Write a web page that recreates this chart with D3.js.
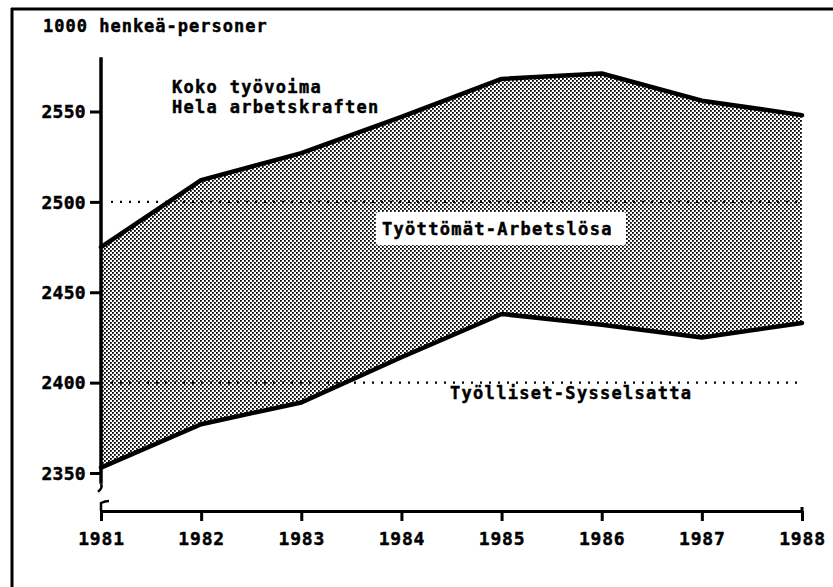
<!DOCTYPE html>
<html><head><meta charset="utf-8">
<script src="https://cdn.jsdelivr.net/npm/d3@7"></script>
<style>
html,body{margin:0;padding:0;background:#fff;}
svg{display:block;}
text{font-family:"DejaVu Sans Mono",monospace;font-weight:bold;fill:#000;stroke:#000;stroke-width:0.45px;}
</style></head>
<body>
<script>
const years = [1981,1982,1983,1984,1985,1986,1987,1988];
const labourForce = [2475,2512,2527,2547,2568,2571,2556,2548];
const employed = [2353,2377,2389,2414,2438,2432,2425,2433];
const yTicks = [2350,2400,2450,2500,2550];
const refLines = [2400,2500];
const W=833,H=587;

const svg=d3.select("body").append("svg").attr("width",W).attr("height",H);

const defs=svg.append("defs");
const pat=defs.append("pattern").attr("id","stip").attr("patternUnits","userSpaceOnUse")
  .attr("width",4).attr("height",4);
pat.append("rect").attr("width",4).attr("height",4).attr("fill","#fff");
pat.append("rect").attr("x",0).attr("y",0).attr("width",1.8).attr("height",1.8).attr("fill","#000");
pat.append("rect").attr("x",2).attr("y",2).attr("width",1.8).attr("height",1.8).attr("fill","#000");

// frame
svg.append("line").attr("x1",11).attr("x2",W).attr("y1",9).attr("y2",9).attr("stroke","#000").attr("stroke-width",3);
svg.append("line").attr("x1",12).attr("x2",12).attr("y1",8).attr("y2",H).attr("stroke","#000").attr("stroke-width",3);

const x=d3.scaleLinear().domain([1981,1988]).range([101,802]);
const y=d3.scaleLinear().domain([2350,2550]).range([473,111.5]);

const data=years.map((yr,i)=>({yr,hi:labourForce[i],lo:employed[i]}));

// fill
svg.append("path").datum(data)
  .attr("d",d3.area().x(d=>x(d.yr)).y0(d=>y(d.lo)).y1(d=>y(d.hi)))
  .attr("fill","url(#stip)");

// dotted reference lines
refLines.forEach(v=>{
  svg.append("line").attr("x1",x(1981)+10).attr("x2",x(1988)-4)
    .attr("y1",y(v)).attr("y2",y(v))
    .attr("stroke","#000").attr("stroke-width",2.2).attr("stroke-dasharray","2,7");
});

// data lines
[ "hi","lo" ].forEach(k=>{
  svg.append("path").datum(data)
    .attr("d",d3.line().x(d=>x(d.yr)).y(d=>y(d[k])))
    .attr("fill","none").attr("stroke","#000").attr("stroke-width",4.5).attr("stroke-linejoin","round").attr("stroke-linecap","round");
});

// y axis
const yAx=svg.append("g").attr("transform",`translate(${x(1981)},0)`)
  .call(d3.axisLeft(y).tickValues(yTicks).tickSize(11).tickPadding(4).tickFormat(d3.format("d")));
yAx.select(".domain").remove();
yAx.selectAll(".tick line").attr("stroke","#000").attr("stroke-width",3);
yAx.selectAll(".tick text").attr("font-size",18).attr("letter-spacing",0.3).attr("font-family","DejaVu Sans Mono").attr("font-weight","bold").attr("dy","0.35em");
svg.append("line").attr("x1",x(1981)).attr("x2",x(1981)).attr("y1",y(2580)).attr("y2",y(2344))
  .attr("stroke","#000").attr("stroke-width",3.5);
// axis break marks
svg.append("path").attr("d",`M${x(1981)},${y(2344)} q2,4 -3,8`).attr("fill","none").attr("stroke","#000").attr("stroke-width",2.5);

// x axis
const xAxisY=511;
const xAx=svg.append("g").attr("transform",`translate(0,${xAxisY})`)
  .call(d3.axisBottom(x).tickValues(years).tickSize(10).tickSizeOuter(0).tickPadding(11).tickFormat(d3.format("d")));
xAx.select(".domain").attr("stroke","#000").attr("stroke-width",3);
xAx.selectAll(".tick line").attr("stroke","#000").attr("stroke-width",3);
xAx.selectAll(".tick text").attr("font-size",18).attr("letter-spacing",0.8).attr("font-family","DejaVu Sans Mono").attr("font-weight","bold");
svg.append("path").attr("d",`M${x(1981)},${xAxisY} L${x(1981)},${xAxisY-8} q4,-2 8,-2`).attr("fill","none").attr("stroke","#000").attr("stroke-width",2.5);
svg.append("line").attr("x1",x(1988)).attr("x2",x(1988)).attr("y1",xAxisY-4).attr("y2",xAxisY).attr("stroke","#000").attr("stroke-width",3);

// texts
function label(t,xx,yy,fs,ls){
  return svg.append("text").attr("x",xx).attr("y",yy).attr("font-size",fs).attr("letter-spacing",ls).text(t);
}
label("1000 henkeä-personer",43,32,17,1.0);
label("Koko työvoima",172,93,17,1.3);
label("Hela arbetskraften",172,113,17,1.3);
// box
svg.append("rect").attr("x",376).attr("y",212).attr("width",250).attr("height",33).attr("fill","#fff").attr("rx",2);
label("Työttömät-Arbetslösa",382,235,17,1.3);
label("Työlliset-Sysselsatta",450,399,17,1.3);
</script>
</body></html>
